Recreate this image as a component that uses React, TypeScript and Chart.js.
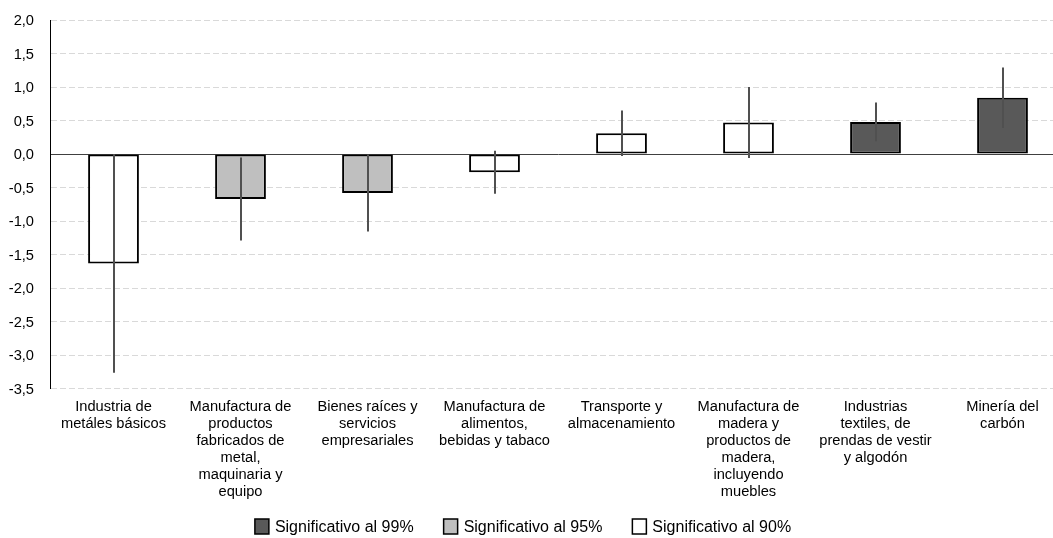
import { useEffect, useRef } from "react";
import { Chart, registerables } from "chart.js";

Chart.register(...registerables);

const FONT = "'Liberation Sans', Arial, sans-serif";

// Sector names, split into the lines shown under each bar
const categories: string[][] = [
  ["Industria de", "metáles básicos"],
  ["Manufactura de", "productos", "fabricados de", "metal,", "maquinaria y", "equipo"],
  ["Bienes raíces y", "servicios", "empresariales"],
  ["Manufactura de", "alimentos,", "bebidas y tabaco"],
  ["Transporte y", "almacenamiento"],
  ["Manufactura de", "madera y", "productos de", "madera,", "incluyendo", "muebles"],
  ["Industrias", "textiles, de", "prendas de vestir", "y algodón"],
  ["Minería del", "carbón"],
];

// Estimated coefficient per sector
const coefficients: number[] = [-1.63, -0.67, -0.58, -0.27, 0.31, 0.47, 0.48, 0.84];

// Half-width of the confidence interval around each coefficient
const halfIntervals: number[] = [1.63, 0.62, 0.575, 0.32, 0.34, 0.53, 0.29, 0.45];

// Significance level reached by each coefficient (%)
const significance: number[] = [90, 95, 95, 90, 90, 90, 99, 99];

// Legend entries
const levels: number[] = [99, 95, 90];
const levelLabels: string[] = ["Significativo al 99%", "Significativo al 95%", "Significativo al 90%"];
const levelFills: string[] = ["#595959", "#BFBFBF", "#FFFFFF"];

// Value axis range
const yMin = -3.5;
const yMax = 2.0;
const yStep = 0.5;

const formatTick = (v: number) => Number(v).toFixed(1).replace(".", ",");

const errorBarPlugin = {
  id: "errorBars",
  afterDatasetsDraw(chart: any) {
    const meta = chart.getDatasetMeta(0);
    const y = chart.scales.y;
    const ctx = chart.ctx as CanvasRenderingContext2D;
    ctx.save();
    ctx.strokeStyle = "#505050";
    ctx.lineWidth = 2;
    meta.data.forEach((bar: any, i: number) => {
      const v = coefficients[i];
      const e = halfIntervals[i];
      const x = Math.round(bar.x);
      ctx.beginPath();
      ctx.moveTo(x, y.getPixelForValue(v + e));
      ctx.lineTo(x, y.getPixelForValue(v - e));
      ctx.stroke();
    });
    ctx.restore();
  },
};

// Legend row under the chart: filled square + text for each level
const legendPlugin = {
  id: "significanceLegend",
  afterDraw(chart: any) {
    const ctx = chart.ctx as CanvasRenderingContext2D;
    const box = 14;
    const gap = 6;
    const spacing = 30;
    const centerX = 523;
    const midY = chart.height - 11;
    ctx.save();
    ctx.font = `16px ${FONT}`;
    ctx.textBaseline = "middle";
    ctx.textAlign = "left";
    const widths = levelLabels.map((t) => box + gap + ctx.measureText(t).width);
    const total = widths.reduce((a, b) => a + b, 0) + spacing * (widths.length - 1);
    let x = centerX - total / 2;
    levelLabels.forEach((label, i) => {
      ctx.fillStyle = levelFills[i];
      ctx.fillRect(x, midY - box / 2 - 1, box, box + 1);
      ctx.strokeStyle = "#000";
      ctx.lineWidth = 1.5;
      ctx.strokeRect(x, midY - box / 2 - 1, box, box + 1);
      ctx.fillStyle = "#000";
      ctx.fillText(label, x + box + gap, midY + 1);
      x += widths[i] + spacing;
    });
    ctx.restore();
  },
};

export default function App() {
  const canvasRef = useRef<HTMLCanvasElement | null>(null);

  useEffect(() => {
    if (!canvasRef.current) return;
    const chart = new Chart(canvasRef.current, {
      type: "bar",
      data: {
        labels: categories,
        datasets: [
          {
            data: coefficients,
            backgroundColor: significance.map((s) => levelFills[levels.indexOf(s)]),
            borderColor: "#000000",
            borderWidth: 2,
            borderSkipped: false,
            barPercentage: 0.4,
            categoryPercentage: 1.0,
          },
        ],
      },
      options: {
        animation: false,
        responsive: true,
        maintainAspectRatio: false,
        events: [],
        layout: { padding: { top: 20, left: 0, right: 0, bottom: 28 } },
        plugins: {
          legend: { display: false },
          tooltip: { enabled: false },
        },
        scales: {
          x: {
            offset: true,
            grid: { display: false, drawTicks: false },
            border: { display: false },
            ticks: {
              autoSkip: false,
              maxRotation: 0,
              minRotation: 0,
              padding: 10,
              color: "#000",
              font: { family: FONT, size: 14.67, lineHeight: 1.15 },
            },
          },
          y: {
            min: yMin,
            max: yMax,
            afterFit: (scale: any) => {
              scale.width = 50;
              scale.paddingTop = 0;
              scale.paddingBottom = 0;
            },
            ticks: {
              stepSize: yStep,
              padding: 16,
              labelOffset: 1,
              color: "#000",
              font: { family: FONT, size: 14.67 },
              callback: (v: any) => formatTick(v),
            },
            grid: {
              drawTicks: false,
              lineWidth: 1,
              color: (c: any) => (c.tick && c.tick.value === 0 ? "#404040" : "#D9D9D9"),
            },
            border: {
              display: true,
              color: "#000",
              width: 1,
              dash: (c: any) => (c.tick && c.tick.value === 0 ? [] : [6, 3]),
            },
          },
        },
      },
      plugins: [errorBarPlugin, legendPlugin],
    });
    return () => chart.destroy();
  }, []);

  return (
    <div
      style={{
        position: "absolute",
        left: 0,
        top: 0,
        width: 1053,
        height: 538,
        overflow: "hidden",
        background: "#fff",
      }}
    >
      <div style={{ position: "relative", width: 1066, height: 538 }}>
        <canvas ref={canvasRef} />
      </div>
    </div>
  );
}
